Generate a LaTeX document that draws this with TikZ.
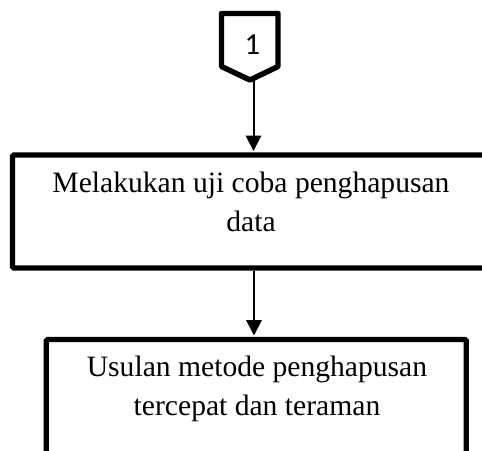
\documentclass[tikz,border=0pt]{standalone}
\usepackage{fontspec}
\setmainfont{Liberation Serif}
\newfontfamily\numfont{Carlito}
\usetikzlibrary{arrows.meta}
\begin{document}
\begin{tikzpicture}[x=0.75pt,y=-0.75pt,
  procbox/.style={draw=black,line width=4pt,rectangle,rounded corners=1pt,inner sep=0pt},
  boxtext/.style={inner sep=0pt,align=center,font=\fontsize{22.2pt}{29.25pt}\selectfont,anchor=base},
  flowarrow/.style={line width=1.5pt,-{Triangle[width=11.5pt,length=11.5pt]},shorten >=1pt}]
\useasboundingbox (0,0) rectangle (482,450);
\clip (0,0) rectangle (482,450);
% off-page connector
\draw[line width=4.1pt,line join=round]
  (221.5,13.5) -- (278,13.5) -- (278,66.5) -- (250,80) -- (221.5,66.5) -- cycle;
\node[inner sep=0pt,font=\numfont\fontsize{23pt}{27pt}\selectfont] (n1) at (252.5,45) {1};
\coordinate (p1) at (253.5,81);
% boxes
\node[procbox,minimum width=477*0.75pt,minimum height=113*0.75pt] (b1) at (251,211.5) {};
\node[boxtext] (t1) at (251,231.7) {Melakukan uji coba penghapusan\\data};
\node[procbox,minimum width=420*0.75pt,minimum height=140.5*0.75pt] (b2) at (256.3,409.75) {};
\node[boxtext] (t2) at (257,415.5) {Usulan metode penghapusan\\tercepat dan teraman};
\coordinate (a2) at (254,0);
% connectors
\draw[flowarrow] (p1) -- (b1.north -| p1);
\draw[flowarrow] (b1.south -| a2) -- (b2.north -| a2);
\end{tikzpicture}
\end{document}
